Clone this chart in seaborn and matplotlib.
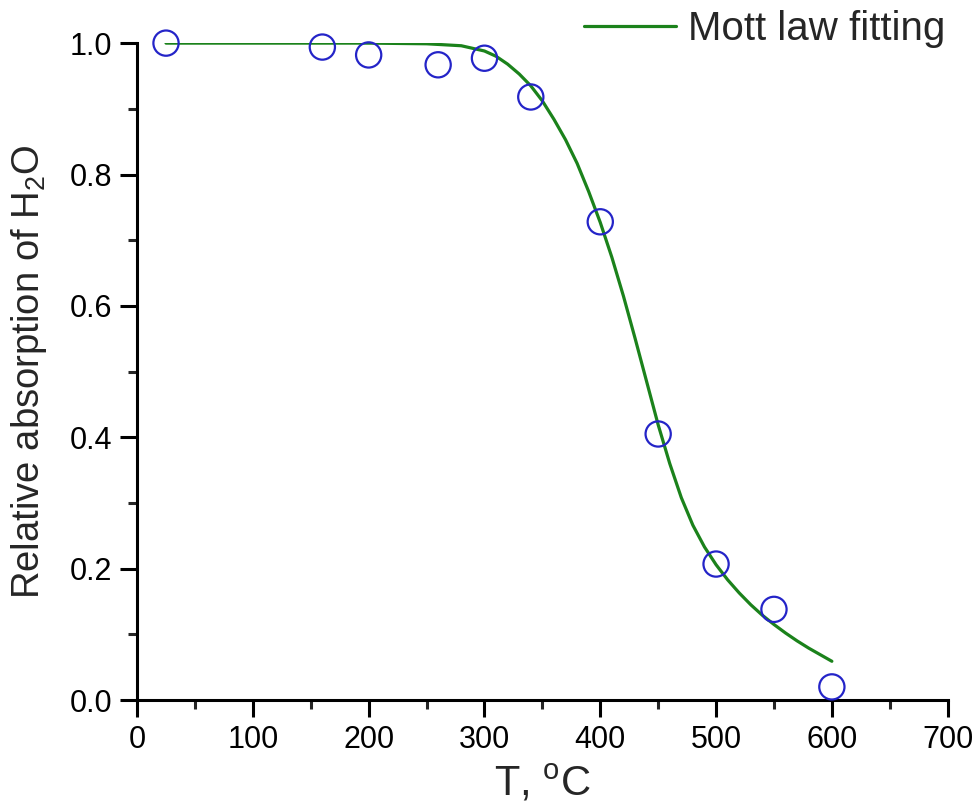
import numpy as np
import pandas as pd
import matplotlib
matplotlib.use("Agg")
import matplotlib.pyplot as plt
from matplotlib.ticker import MultipleLocator, FormatStrFormatter
import seaborn as sns

# Measured relative absorption of H2O vs temperature
temp_c = [25, 160, 200, 260, 300, 340, 400, 450, 500, 550, 600]
rel_abs = [1.000, 0.994, 0.982, 0.967, 0.977, 0.918, 0.728, 0.405, 0.207, 0.138, 0.020]

# Mott law fitted curve
fit_t = [25, 100, 200, 250, 280, 300, 310, 320, 330, 340, 350, 360, 370, 380, 390,
         400, 410, 420, 430, 440, 450, 460, 470, 480, 490, 500, 510, 520, 530,
         540, 550, 560, 570, 580, 590, 600]
fit_y = [1.000, 1.000, 1.000, 0.999, 0.996, 0.988, 0.980, 0.968, 0.953, 0.935,
         0.912, 0.884, 0.853, 0.817, 0.774, 0.727, 0.674, 0.615, 0.551, 0.485,
         0.419, 0.360, 0.308, 0.266, 0.233, 0.206, 0.183, 0.163, 0.145, 0.129,
         0.115, 0.102, 0.090, 0.079, 0.069, 0.059]

points = pd.DataFrame({"T": temp_c, "A": rel_abs})
curve = pd.DataFrame({"T": fit_t, "A": fit_y})

sns.set_style("ticks")
plt.rcParams["font.family"] = ["Liberation Sans", "DejaVu Sans"]
plt.rcParams["mathtext.fontset"] = "custom"
plt.rcParams["mathtext.rm"] = "Liberation Sans"
plt.rcParams["mathtext.it"] = "Liberation Sans"

fig = plt.figure(figsize=(9.79, 8.09), dpi=100)
ax = fig.add_axes([0.140, 0.1347, 0.828, 0.812])

sns.lineplot(data=curve, x="T", y="A", ax=ax, color="#1b821b", linewidth=2.3,
             label="Mott law fitting", sort=False)
sns.scatterplot(data=points, x="T", y="A", ax=ax, marker="o", s=330,
                facecolor="none", edgecolor="#2424c8", linewidth=1.6,
                clip_on=False, legend=False, zorder=5)

ax.set_xlim(0, 700)
ax.set_ylim(0, 1.0)
ax.xaxis.set_major_locator(MultipleLocator(100))
ax.xaxis.set_minor_locator(MultipleLocator(50))
ax.yaxis.set_major_locator(MultipleLocator(0.2))
ax.yaxis.set_minor_locator(MultipleLocator(0.1))
ax.yaxis.set_major_formatter(FormatStrFormatter("%.1f"))

for side in ("top", "right"):
    ax.spines[side].set_visible(False)
for side in ("left", "bottom"):
    ax.spines[side].set_linewidth(2.2)
    ax.spines[side].set_color("black")

ax.tick_params(which="major", direction="out", length=12, width=2.2,
               labelsize=22, pad=6, colors="black")
ax.tick_params(which="minor", direction="out", length=6.5, width=2.2)

ax.set_xlabel("T, $^{\\mathrm{o}}$C", fontsize=30, labelpad=6)
ax.set_ylabel("Relative absorption of H$_2$O", fontsize=27.5, labelpad=15)

leg = ax.legend(loc="center right", bbox_to_anchor=(0.966, 0.964),
                bbox_transform=fig.transFigure, frameon=False, fontsize=29,
                handlelength=2.3, handletextpad=0.3, borderpad=0,
                borderaxespad=0)

fig.savefig("out.png", dpi=100, facecolor="white")
